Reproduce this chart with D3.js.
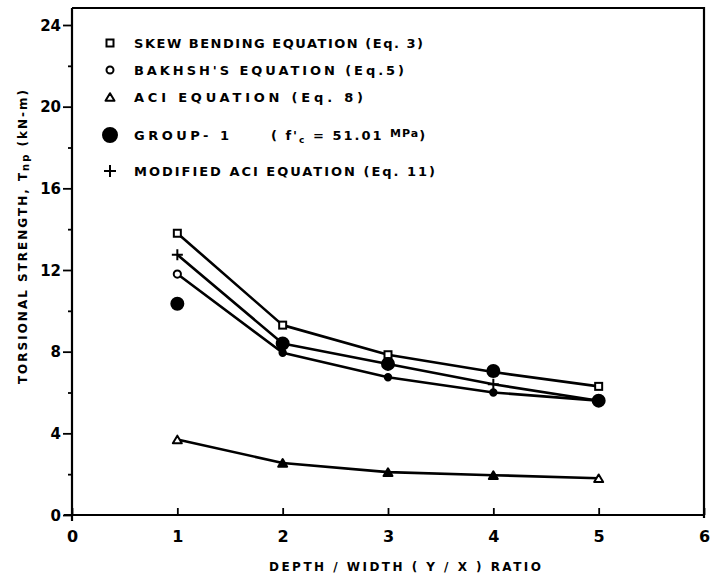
<!DOCTYPE html>
<html>
<head>
<meta charset="utf-8">
<script src="https://cdn.jsdelivr.net/npm/d3@7"></script>
<style>
  html, body { margin: 0; padding: 0; background: #fff; }
  svg { display: block; }
  text { font-family: "DejaVu Sans", sans-serif; fill: #000; }
</style>
</head>
<body>
<svg id="chart" width="712" height="577"></svg>
<script>
// Depth/width ratio of the beams
const ratios = [1, 2, 3, 4, 5];

// Torsional strength Tnp (kN-m) for each method
const skewBending = [13.8, 9.3, 7.85, 7.0, 6.3];
const bakhsh      = [11.8, 7.95, 6.75, 6.0, 5.6];
const aci         = [3.7, 2.55, 2.1, 1.95, 1.8];
const group1      = [10.35, 8.4, 7.4, 7.05, 5.6];
const modifiedAci = [12.75, 8.4, 7.4, 6.4, 5.6];

const xTicks = [0, 1, 2, 3, 4, 5, 6];
const yTicks = [0, 2, 4, 6, 8, 10, 12, 14, 16, 18, 20, 22, 24];
const yLabelled = [0, 4, 8, 12, 16, 20, 24];

const legendLabels = [
  "SKEW BENDING EQUATION (Eq. 3)",
  "BAKHSH'S EQUATION  (Eq.5)",
  "ACI  EQUATION   (Eq. 8)",
  "GROUP- 1",
  "MODIFIED ACI EQUATION (Eq. 11)"
];

const svg = d3.select("#chart");
const plotL = 72, plotR = 704, plotT = 8, plotB = 515;

const x = d3.scaleLinear().domain([0, 6]).range([plotL, plotR]);
const y = d3.scaleLinear().domain([0, 24]).range([plotB, plotT + 17]);

// frame: top and right edges
svg.append("path")
  .attr("d", `M${plotL},${plotT}H${plotR}V${plotB + 3}`)
  .attr("fill", "none").attr("stroke", "#000").attr("stroke-width", 2.2);

// y axis
const yAxis = svg.append("g").attr("transform", `translate(${plotL},0)`)
  .call(d3.axisLeft(y).tickValues(yTicks).tickSize(9)
    .tickFormat(d => yLabelled.includes(d) ? d : ""));
yAxis.select(".domain").attr("d", `M0,${plotT}V${plotB + 6}`).attr("stroke-width", 2.2);
yAxis.selectAll(".tick line").attr("stroke-width", 1.8)
  .attr("x2", d => yLabelled.includes(d) ? -9 : -4);
yAxis.selectAll(".tick text").attr("x", -11)
  .style("font-size", "15px").style("font-weight", "bold").attr("dy", "0.35em");

// x axis with ticks pointing inward
const xAxis = svg.append("g").attr("transform", `translate(0,${plotB})`)
  .call(d3.axisBottom(x).tickValues(xTicks).tickFormat(d3.format("d"))
    .tickSizeInner(-7).tickSizeOuter(0));
xAxis.select(".domain").attr("d", `M${plotL - 8},0H${plotR}`).attr("stroke-width", 2);
xAxis.selectAll(".tick line").attr("stroke-width", 1.8);
xAxis.selectAll(".tick text").attr("y", 16)
  .style("font-size", "16px").style("font-weight", "bold");

// axis titles
svg.append("text")
  .attr("x", (plotL + plotR) / 2 + 17).attr("y", 571)
  .attr("text-anchor", "middle")
  .attr("textLength", 272).attr("lengthAdjust", "spacing")
  .style("font-size", "12px").style("font-weight", "bold")
  .text("DEPTH / WIDTH ( Y / X ) RATIO");

const yt = svg.append("text")
  .attr("transform", "translate(27,236) rotate(-90)")
  .attr("text-anchor", "middle")
  .style("font-size", "12px").style("font-weight", "bold")
  .style("letter-spacing", "2px");
yt.append("tspan").text("TORSIONAL STRENGTH, T");
yt.append("tspan").attr("dy", 2).style("font-size", "10px").text("np");
yt.append("tspan").attr("dy", -2).text(" (kN-m)");

// series lines
const line = d3.line().x((d, i) => x(ratios[i])).y(d => y(d));
[skewBending, modifiedAci, bakhsh, aci].forEach(s => {
  svg.append("path").datum(s).attr("d", line)
    .attr("fill", "none").attr("stroke", "#000").attr("stroke-width", 2.6)
    .attr("stroke-linejoin", "round");
});

// marker drawing helpers
function square(g, cx, cy, s, filled) {
  g.append("rect").attr("x", cx - s / 2).attr("y", cy - s / 2)
    .attr("width", s).attr("height", s)
    .attr("fill", filled ? "#000" : "#fff").attr("stroke", "#000").attr("stroke-width", 2);
}
function circle(g, cx, cy, r, filled) {
  g.append("circle").attr("cx", cx).attr("cy", cy).attr("r", r)
    .attr("fill", filled ? "#000" : "#fff").attr("stroke", "#000").attr("stroke-width", 2);
}
function triangle(g, cx, cy, s, filled) {
  const h = s * 0.85;
  g.append("path")
    .attr("d", `M${cx},${cy - h / 2}L${cx + s / 2},${cy + h / 2}L${cx - s / 2},${cy + h / 2}Z`)
    .attr("fill", filled ? "#000" : "#fff").attr("stroke", "#000").attr("stroke-width", 2)
    .attr("stroke-linejoin", "round");
}
function plus(g, cx, cy, s) {
  g.append("path").attr("d", `M${cx - s / 2},${cy}H${cx + s / 2}M${cx},${cy - s / 2}V${cy + s / 2}`)
    .attr("stroke", "#000").attr("stroke-width", 2);
}

const marks = svg.append("g");
aci.forEach((v, i) => triangle(marks, x(ratios[i]), y(v), 9, i > 0 && i < 4));
bakhsh.forEach((v, i) => circle(marks, x(ratios[i]), y(v), i === 0 ? 3.6 : 3.2, i > 0));
skewBending.forEach((v, i) => square(marks, x(ratios[i]), y(v), 7, false));
modifiedAci.forEach((v, i) => plus(marks, x(ratios[i]), y(v), 11));
group1.forEach((v, i) => circle(marks, x(ratios[i]), y(v), 6, true));

// legend
const legX = 110, legText = 134;
const legY = [43, 70, 97, 135, 171];
const legLen = [289, 270, 229, 95, 301];
const leg = svg.append("g");
square(leg, legX, legY[0], 7, false);
circle(leg, legX, legY[1], 3.5, false);
triangle(leg, legX, legY[2], 9, false);
circle(leg, legX, legY[3], 7, true);
plus(leg, legX, legY[4], 12);

legendLabels.forEach((t, i) => {
  leg.append("text").attr("x", legText).attr("y", legY[i]).attr("dy", "0.36em")
    .style("font-size", "13px").style("font-weight", "bold")
    .attr("textLength", legLen[i]).attr("lengthAdjust", "spacing")
    .text(t);
});

// concrete strength note for the test group
const fc = leg.append("text").attr("x", 271).attr("y", legY[3]).attr("dy", "0.36em")
  .style("font-size", "13px").style("font-weight", "bold").style("letter-spacing", "2px");
fc.append("tspan").text("( f'");
fc.append("tspan").attr("dy", 3).style("font-size", "9px").text("c");
fc.append("tspan").attr("dy", -3).text(" = 51.01 ");
fc.append("tspan").attr("dy", -3).style("font-size", "11px").style("letter-spacing", "1px").text("MPa");
fc.append("tspan").attr("dy", 3).text(")");
</script>
</body>
</html>
